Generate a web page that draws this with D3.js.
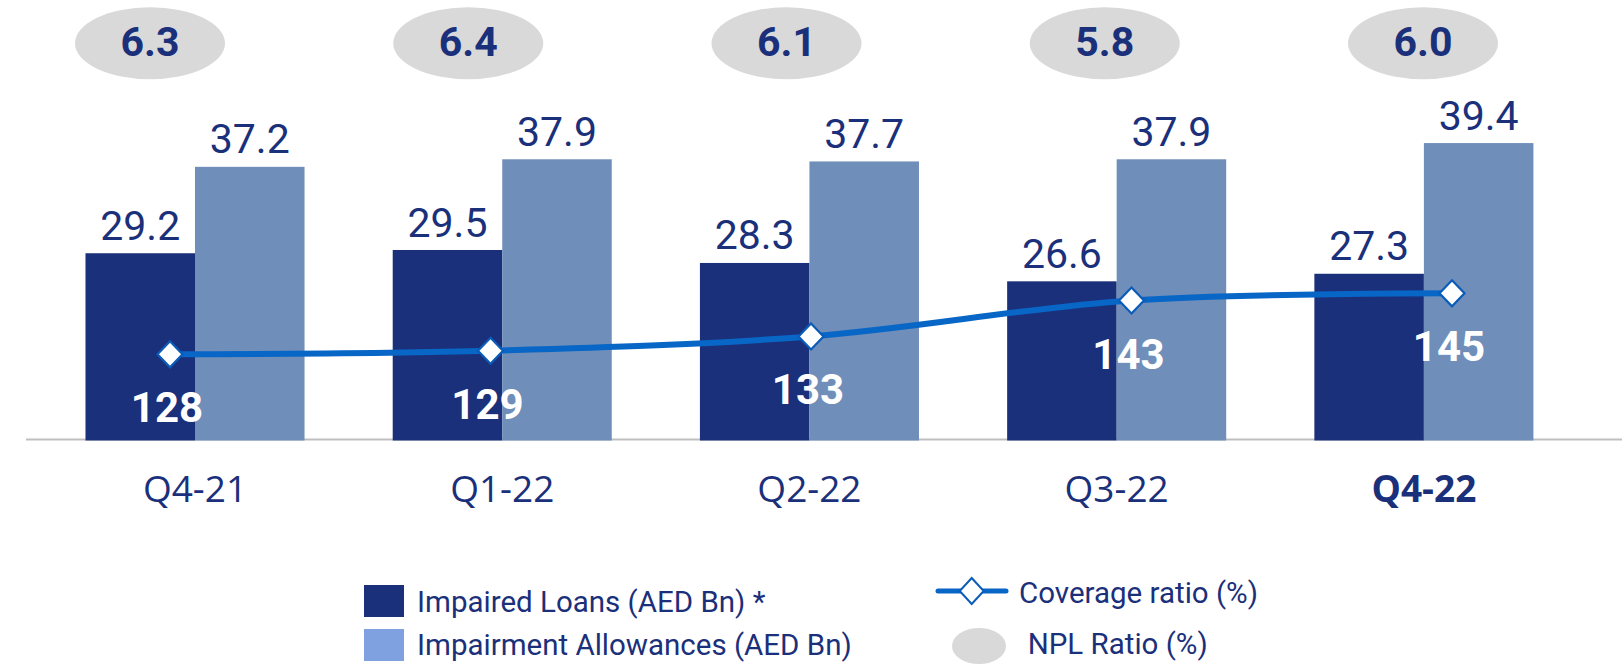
<!DOCTYPE html>
<html>
<head>
<meta charset="utf-8">
<script src="https://cdn.jsdelivr.net/npm/d3@7"></script>
<style>
    body { margin: 0; background: #fff; }
    #chart-area { width: 1622px; height: 664px; }
</style>
</head>
<body>
<div id="chart-area"></div>
<script>

// data
const quarters = ['Q4-21', 'Q1-22', 'Q2-22', 'Q3-22', 'Q4-22'];
const impairedLoans = [29.2, 29.5, 28.3, 26.6, 27.3];
const impairmentAllowances = [37.2, 37.9, 37.7, 37.9, 39.4];
const coverageRatio = [128, 129, 133, 143, 145];
const nplRatio = [6.3, 6.4, 6.1, 5.8, 6.0];

const seriesKeys = ['loans', 'allowances'];
const legendItems = ['Impaired Loans (AED Bn) *', 'Impairment Allowances (AED Bn)'];


class NplVis {

    constructor(parentElement) {
        this.parentElement = parentElement;

        // define colors
        this.colors = {loans: '#1b307a', allowances: '#6f8eb9', line: '#0866c6', text: '#1b307a', oval: '#d9d9d9', axis: '#bfbfbf'};

        this.initVis()
    }

    initVis() {
        let vis = this;

        vis.width = 1622;
        vis.height = 664;

        vis.svg = d3.select("#" + vis.parentElement).append("svg")
            .attr("width", vis.width)
            .attr("height", vis.height);

        // scales
        vis.x = d3.scaleBand()
            .domain(quarters)
            .range([41.4, 1577.5])
            .paddingInner(0.287)
            .paddingOuter(0.1435);

        vis.xSub = d3.scaleBand()
            .domain(seriesKeys)
            .range([0, vis.x.bandwidth()]);

        vis.y = d3.scaleLinear()
            .domain([12, 40])
            .range([439, 136.6]);

        // line sits on its own (wider) category axis
        vis.xLine = d3.scalePoint()
            .domain(quarters)
            .range([170, 1452]);

        vis.yLine = d3.scaleLinear()
            .domain([100, 150])
            .range([454.8, 275.4]);

        vis.xNpl = d3.scalePoint()
            .domain(quarters)
            .range([150, 1423]);

        vis.wrangleData()
    }

    wrangleData() {
        let vis = this;

        vis.displayData = quarters.map((q, i) => ({
            quarter: q,
            loans: impairedLoans[i],
            allowances: impairmentAllowances[i],
            coverage: coverageRatio[i],
            npl: nplRatio[i]
        }));

        vis.updateVis()
    }

    updateVis() {
        let vis = this;

        // axis line
        vis.svg.append("line")
            .attr("x1", 26)
            .attr("x2", vis.width)
            .attr("y1", vis.y(12) + 0.5)
            .attr("y2", vis.y(12) + 0.5)
            .attr("stroke", vis.colors.axis)
            .attr("stroke-width", 2);

        // bars
        let groups = vis.svg.selectAll(".group")
            .data(vis.displayData)
            .enter().append("g")
            .attr("class", "group")
            .attr("transform", d => `translate(${vis.x(d.quarter)},0)`);

        groups.selectAll("rect")
            .data(d => seriesKeys.map(k => ({key: k, value: d[k]})))
            .enter().append("rect")
            .attr("x", d => vis.xSub(d.key))
            .attr("width", vis.xSub.bandwidth())
            .attr("y", d => vis.y(d.value))
            .attr("height", d => vis.y(12) - vis.y(d.value) + 1.5)
            .attr("fill", d => vis.colors[d.key]);

        groups.selectAll(".bar-label")
            .data(d => seriesKeys.map(k => ({key: k, value: d[k]})))
            .enter().append("text")
            .attr("class", "bar-label")
            .attr("x", d => vis.xSub(d.key) + vis.xSub.bandwidth() / 2)
            .attr("y", d => vis.y(d.value) - 13.5)
            .attr("text-anchor", "middle")
            .attr("font-family", "Roboto")
            .attr("font-size", 41)
            .attr("fill", vis.colors.text)
            .text(d => d3.format(".1f")(d.value));

        // x labels
        vis.svg.selectAll(".x-label")
            .data(vis.displayData)
            .enter().append("text")
            .attr("class", "x-label")
            .attr("x", d => vis.x(d.quarter) + vis.x.bandwidth() / 2)
            .attr("y", 501.7)
            .attr("text-anchor", "middle")
            .attr("font-family", "Open Sans")
            .attr("font-size", 37)
            .attr("font-weight", (d, i) => i === quarters.length - 1 ? 700 : 400)
            .attr("fill", vis.colors.text)
            .text(d => d.quarter);

        // coverage line
        let line = d3.line()
            .x(d => vis.xLine(d.quarter))
            .y(d => vis.yLine(d.coverage))
            .curve(d3.curveCatmullRom.alpha(0.5));

        vis.svg.append("path")
            .datum(vis.displayData)
            .attr("d", line)
            .attr("fill", "none")
            .attr("stroke", vis.colors.line)
            .attr("stroke-width", 6);

        vis.svg.selectAll(".diamond")
            .data(vis.displayData)
            .enter().append("path")
            .attr("class", "diamond")
            .attr("d", "M0,-13L12.5,0L0,13L-12.5,0Z")
            .attr("transform", d => `translate(${vis.xLine(d.quarter)},${vis.yLine(d.coverage)})`)
            .attr("fill", "#fff")
            .attr("stroke", '#0b5cb8')
            .attr("stroke-width", 2.2);

        vis.svg.selectAll(".coverage-label")
            .data(vis.displayData)
            .enter().append("text")
            .attr("class", "coverage-label")
            .attr("x", d => vis.xLine(d.quarter) - 3)
            .attr("y", d => vis.yLine(d.coverage) + 68)
            .attr("text-anchor", "middle")
            .attr("font-family", "Roboto")
            .attr("font-weight", 700)
            .attr("font-size", 42)
            .attr("fill", "#fff")
            .text(d => d.coverage);

        // NPL ovals
        vis.svg.selectAll(".npl-oval")
            .data(vis.displayData)
            .enter().append("ellipse")
            .attr("class", "npl-oval")
            .attr("cx", d => vis.xNpl(d.quarter))
            .attr("cy", 43.2)
            .attr("rx", 75)
            .attr("ry", 36)
            .attr("fill", vis.colors.oval);

        vis.svg.selectAll(".npl-label")
            .data(vis.displayData)
            .enter().append("text")
            .attr("class", "npl-label")
            .attr("x", d => vis.xNpl(d.quarter))
            .attr("y", 56)
            .attr("text-anchor", "middle")
            .attr("font-family", "Roboto")
            .attr("font-weight", 700)
            .attr("font-size", 41)
            .attr("fill", vis.colors.text)
            .text(d => d3.format(".1f")(d.npl));

        // legend
        vis.legend = vis.svg.append("g")
            .attr("class", "legend");

        let legendSwatch = ['#1b307a', '#7fa1e0'];

        vis.legend.selectAll(".legend-rect")
            .data(legendItems)
            .enter().append("rect")
            .attr("x", 364)
            .attr("y", (d, i) => 585 + i * 44)
            .attr("width", 40)
            .attr("height", 32)
            .attr("fill", (d, i) => legendSwatch[i]);

        vis.legend.selectAll(".legend-text")
            .data(legendItems)
            .enter().append("text")
            .attr("x", 417)
            .attr("y", (d, i) => 611.7 + i * 43.5)
            .attr("font-family", "Roboto")
            .attr("font-size", 29.5)
            .attr("fill", vis.colors.text)
            .text(d => d);

        vis.legend.append("line")
            .attr("x1", 938)
            .attr("x2", 1006)
            .attr("y1", 591)
            .attr("y2", 591)
            .attr("stroke", vis.colors.line)
            .attr("stroke-width", 5)
            .attr("stroke-linecap", "round");

        vis.legend.append("path")
            .attr("d", "M0,-13L12,0L0,13L-12,0Z")
            .attr("transform", "translate(971.7,591)")
            .attr("fill", "#fff")
            .attr("stroke", '#0b5cb8')
            .attr("stroke-width", 2);

        vis.legend.append("text")
            .attr("x", 1019)
            .attr("y", 603.3)
            .attr("font-family", "Roboto")
            .attr("font-size", 29.5)
            .attr("fill", vis.colors.text)
            .text("Coverage ratio (%)");

        vis.legend.append("ellipse")
            .attr("cx", 979)
            .attr("cy", 646)
            .attr("rx", 27)
            .attr("ry", 18)
            .attr("fill", vis.colors.oval);

        vis.legend.append("text")
            .attr("x", 1027.7)
            .attr("y", 654)
            .attr("font-family", "Roboto")
            .attr("font-size", 29.5)
            .attr("fill", vis.colors.text)
            .text("NPL Ratio (%)");
    }
}

new NplVis("chart-area");

</script>
</body>
</html>
